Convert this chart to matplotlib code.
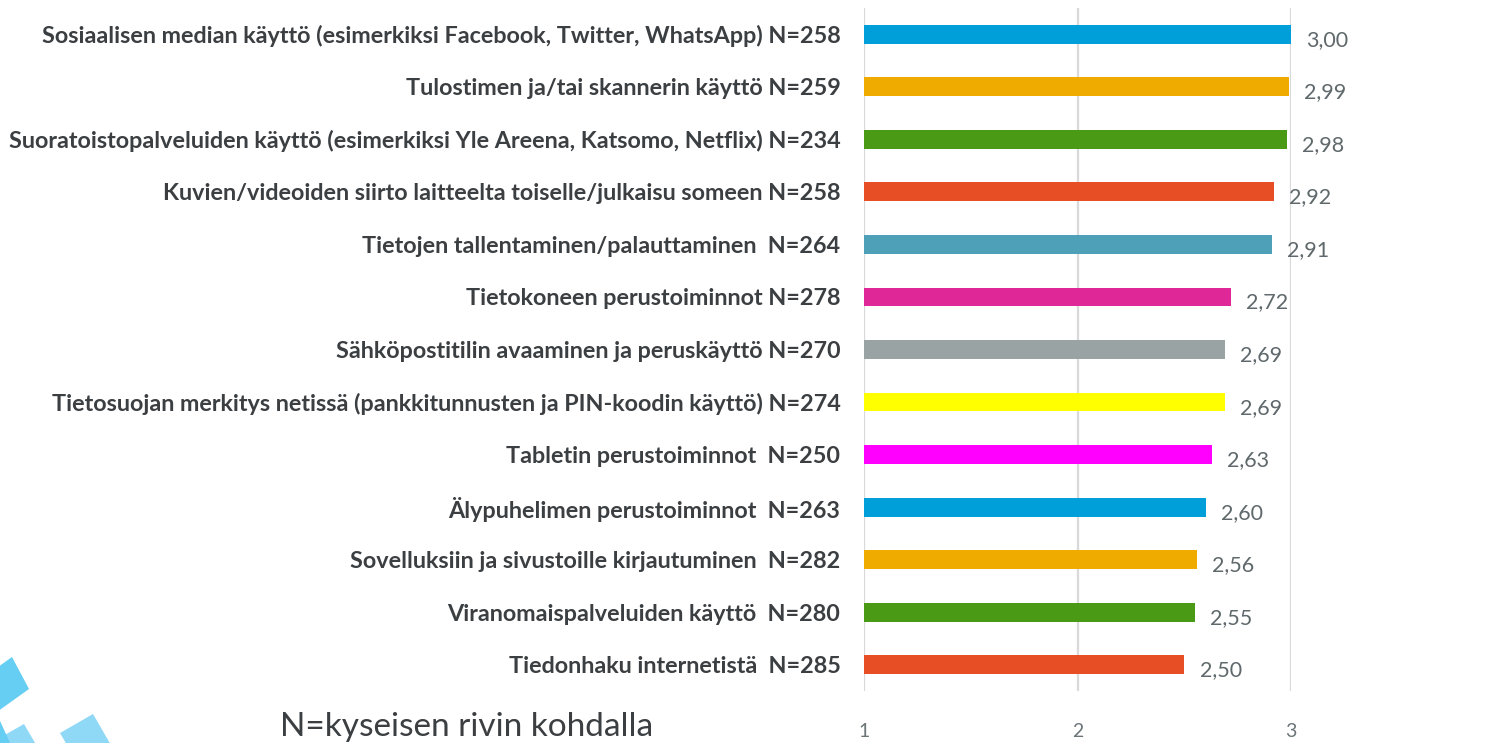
import matplotlib
matplotlib.use("Agg")
import matplotlib.pyplot as plt
from matplotlib.patches import Polygon

# Data
categories = [
    "Sosiaalisen median käyttö (esimerkiksi Facebook, Twitter, WhatsApp) N=258",
    "Tulostimen ja/tai skannerin käyttö N=259",
    "Suoratoistopalveluiden käyttö (esimerkiksi Yle Areena, Katsomo, Netflix) N=234",
    "Kuvien/videoiden siirto laitteelta toiselle/julkaisu someen N=258",
    "Tietojen tallentaminen/palauttaminen  N=264",
    "Tietokoneen perustoiminnot N=278",
    "Sähköpostitilin avaaminen ja peruskäyttö N=270",
    "Tietosuojan merkitys netissä (pankkitunnusten ja PIN-koodin käyttö) N=274",
    "Tabletin perustoiminnot  N=250",
    "Älypuhelimen perustoiminnot  N=263",
    "Sovelluksiin ja sivustoille kirjautuminen  N=282",
    "Viranomaispalveluiden käyttö  N=280",
    "Tiedonhaku internetistä  N=285",
]
values = [3.00, 2.99, 2.98, 2.92, 2.91, 2.72, 2.69, 2.69, 2.63, 2.60, 2.56, 2.55, 2.50]
colors = ["#009fda", "#f0ab00", "#4a9a15", "#e84e26", "#4e9fb8", "#e02797",
          "#9aa3a4", "#ffff00", "#ff00ff", "#009fda", "#f0ab00", "#4a9a15", "#e84e26"]
xticks = [1, 2, 3]
note = "N=kyseisen rivin kohdalla"

W, H = 1500, 743
fig = plt.figure(figsize=(W / 100, H / 100), dpi=100)

# Decorative shapes in the lower left corner (pixel coordinates)
deco = fig.add_axes([0, 0, 1, 1])
deco.set_xlim(0, W)
deco.set_ylim(H, 0)
deco.axis("off")
shapes = [
    ([(12, 657), (29, 689), (-6, 714), (-23, 682)], "#66cdf3"),
    ([(24, 724), (45, 760), (10, 780), (-11, 744)], "#8fd9f7"),
    ([(-4, 712), (10, 743), (-10, 760), (-20, 730)], "#66cdf3"),
    ([(60, 733), (93, 714), (115, 752), (82, 771)], "#8fd9f7"),
]
for pts, c in shapes:
    deco.add_patch(Polygon(pts, closed=True, facecolor=c, edgecolor="none"))

# Main bar chart
ax = fig.add_axes([864 / W, 1 - 691 / H, (1291 - 864) / W, (691 - 8) / H])
ypos = list(range(len(categories)))
ax.barh(ypos, [v - 1 for v in values], left=1, height=0.36, color=colors, zorder=3)
ax.set_xlim(1, 3)
ax.set_ylim(len(categories) - 0.5, -0.5)
ax.set_xticks(xticks)
ax.set_xticklabels([str(t) for t in xticks], fontsize=14, color="#6b7477", family="Lato")
ax.tick_params(axis="x", length=0, pad=23)
ax.set_yticks(ypos)
ax.set_yticklabels(categories, fontsize=16.8, fontweight="bold", color="#3b3f42", family="Lato")
ax.tick_params(axis="y", length=0, pad=17)
ax.grid(axis="x", color="#d9d9d9", linewidth=1.6, zorder=0)
for s in ax.spines.values():
    s.set_visible(False)

for y, v in zip(ypos, values):
    ax.annotate(f"{v:.2f}".replace(".", ","), xy=(v, y), xytext=(11, -4),
                textcoords="offset points", ha="left", va="center",
                fontsize=15.5, color="#5f686b", family="Lato", annotation_clip=False)

fig.text(280 / W, 1 - 727 / H, note, fontsize=24, color="#3b3f42",
         family="Lato", ha="left", va="center")

fig.savefig("out.png", dpi=100)
